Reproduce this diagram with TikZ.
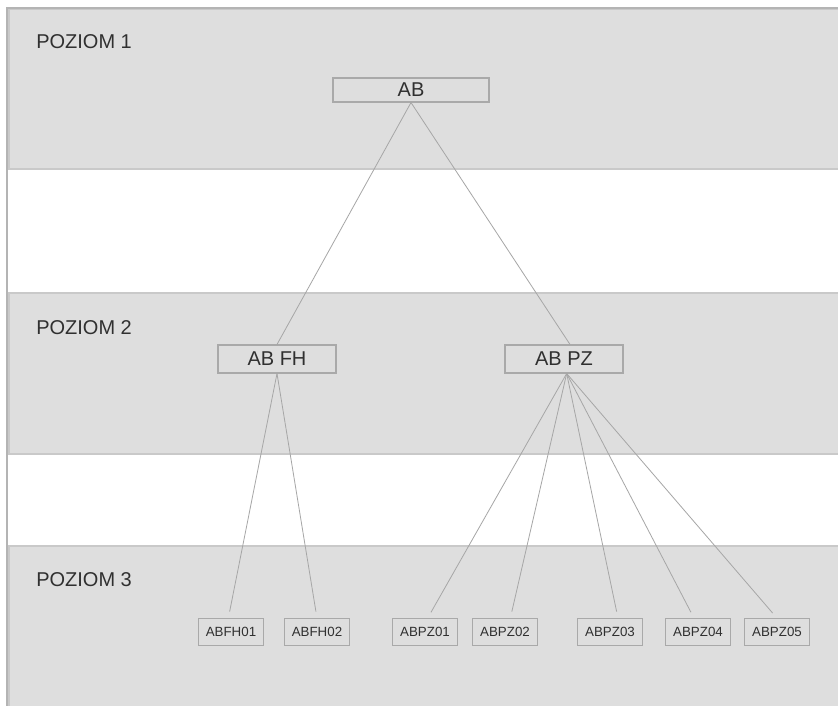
\documentclass[tikz,border=0pt]{standalone}
\usepackage{fontspec}
\setmainfont{Liberation Sans}
\usepackage{xcolor}
\usetikzlibrary{positioning}

\definecolor{bandgray}{HTML}{DEDEDE}
\definecolor{bandedge}{HTML}{C9C9C9}
\definecolor{frameedge}{HTML}{B4B4B4}
\definecolor{boxedge}{HTML}{A9A9A9}
\definecolor{linkgray}{HTML}{A6A6A6}
\definecolor{textgray}{HTML}{303030}

\begin{document}
\begin{tikzpicture}[
  x=0.75pt, y=-0.75pt,
  font=\fontsize{15}{18}\selectfont,
  band/.style={fill=bandgray, draw=bandedge, line width=1.2pt},
  lvl/.style={anchor=west, text=textgray, inner sep=0pt},
  unit/.style={draw=boxedge, fill=bandgray, text=textgray, line width=0.8pt,
    minimum height=19pt, inner sep=0pt},
  leaf/.style={unit, font=\fontsize{10}{12}\selectfont,
    minimum width=48.75pt, minimum height=20pt},
  link/.style={draw=linkgray, line width=0.6pt}
]
  \useasboundingbox (0,0) rectangle (838,706);

  % levels
  \fill[white] (0,0) rectangle (838,706);
  \draw[band] (9,9) rectangle (840,169);
  \draw[band] (9,293) rectangle (840,454);
  \draw[band] (9,546) rectangle (840,708);
  \draw[frameedge, line width=1.5pt] (7,706) -- (7,8) -- (838,8);

  \node[lvl] (lvl1) at (36,42) {POZIOM 1};
  \node[lvl] (lvl2) at (36,328) {POZIOM 2};
  \node[lvl] (lvl3) at (36,580) {POZIOM 3};

  % units
  \node[unit, minimum width=117pt, minimum height=18pt] (ab) at (411,90) {AB};
  \node[unit, minimum width=88.5pt, minimum height=21pt] (abfh) at (277,359) {AB FH};
  \node[unit, minimum width=88.5pt, minimum height=21pt] (abpz) at (564,359) {AB PZ};

  \node[leaf] (abfh01) at (231,632) {ABFH01};
  \node[leaf] (abfh02) at (317,632) {ABFH02};
  \node[leaf] (abpz01) at (425,632) {ABPZ01};
  \node[leaf] (abpz02) at (505,632) {ABPZ02};
  \node[leaf] (abpz03) at (610,632) {ABPZ03};
  \node[leaf] (abpz04) at (698,632) {ABPZ04};
  \node[leaf] (abpz05) at (777,632) {ABPZ05};

  % links
  \draw[link] (ab.south) -- (abfh.north);
  \draw[link] (ab.south) -- ([xshift=4.5pt]abpz.north);
  \draw[link, shorten >=5pt] (abfh.south) -- ([xshift=-2pt]abfh01.north);
  \draw[link, shorten >=5pt] (abfh.south) -- (abfh02.north);
  \foreach \leafname/\dx in {abpz01/2pt, abpz02/4pt, abpz03/6pt, abpz04/-3pt, abpz05/0pt}
    \draw[link, shorten >=5pt] ([xshift=2pt]abpz.south) -- ([xshift=\dx]\leafname.north);
\end{tikzpicture}
\end{document}
